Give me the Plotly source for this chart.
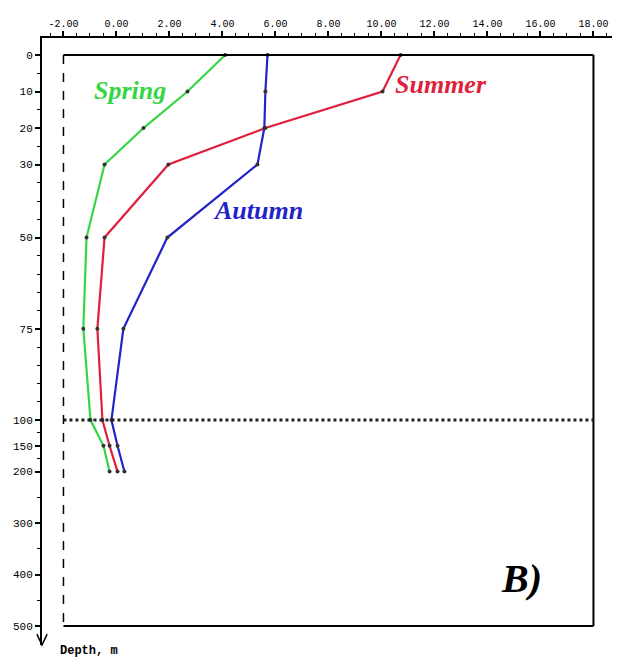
import plotly.graph_objects as go

# ---- data ----
depths = [0, 10, 20, 30, 50, 75, 100, 150, 200]
spring = [4.10, 2.68, 1.02, -0.45, -1.13, -1.25, -0.98, -0.49, -0.26]
summer = [10.72, 10.04, 5.62, 1.96, -0.45, -0.72, -0.53, -0.26, 0.04]
autumn = [5.70, 5.62, 5.58, 5.32, 1.92, 0.26, -0.19, 0.04, 0.30]

x_ticks = [-2, 0, 2, 4, 6, 8, 10, 12, 14, 16, 18]
depth_ticks = [0, 10, 20, 30, 50, 75, 100, 150, 200, 300, 400, 500]

# broken depth axis: linear 0-100, compressed below 100
SCALE_DEEP = 0.141


def dax(d):
    return d if d <= 100 else 100 + (d - 100) * SCALE_DEEP


fig = go.Figure()

series = [("Spring", spring, "#35d645"), ("Summer", summer, "#e01f3d"),
          ("Autumn", autumn, "#2323c8")]
for name, vals, col in series:
    fig.add_trace(go.Scatter(
        x=vals, y=[dax(d) for d in depths], mode="lines+markers", name=name,
        line=dict(color=col, width=2.2),
        marker=dict(color="#333333", size=4),
        showlegend=False))

mono = "Liberation Mono"
ser = "Liberation Serif"

# box around data area
xl, xr = -2, 18
yt, yb = 0, dax(500)
box = dict(type="line", xref="x", yref="y", line=dict(color="black", width=2))
fig.add_shape(**box, x0=xl, x1=xr, y0=yt, y1=yt)
fig.add_shape(**box, x0=xr, x1=xr, y0=yt, y1=yb)
fig.add_shape(**box, x0=xl, x1=xr, y0=yb, y1=yb)
fig.add_shape(type="line", xref="x", yref="y", x0=xl, x1=xl, y0=yt, y1=yb,
              line=dict(color="black", width=1.5, dash="dash"))
# dotted line at 100 m
fig.add_shape(type="line", xref="x", yref="y", x0=xl, x1=xr, y0=dax(100), y1=dax(100),
              line=dict(color="#222222", width=3, dash="dot"))

# arrow at bottom of depth axis
fig.add_shape(type="path", xref="paper", yref="paper",
              path="M -0.009,0.018 L 0,0 L 0.009,0.018",
              line=dict(color="black", width=1.5))

ann = [
    ("Spring", 0.51, dax(9.6), "#35d645", 26),
    ("Summer", 12.25, dax(8.2), "#e01f3d", 26),
    ("Autumn", 5.34, dax(42.5), "#2323c8", 26),
    ("B)", 15.3, 143.3, "black", 40),
]
for t, x, y, c, s in ann:
    fig.add_annotation(x=x, y=y, xref="x", yref="y", text="<b><i>" + t + "</i></b>",
                       showarrow=False, font=dict(family=ser, size=s, color=c),
                       xanchor="center", yanchor="middle")

fig.add_annotation(x=0.028, y=0, xref="paper", yref="paper", text="<b>Depth, m</b>",
                   showarrow=False, xanchor="left", yanchor="middle", yshift=-6,
                   font=dict(family=mono, size=12, color="black"))

fig.update_layout(
    width=619, height=660,
    margin=dict(l=42, r=7, t=38, b=15),
    paper_bgcolor="white", plot_bgcolor="white",
    xaxis=dict(
        side="top", range=[-2.81, 18.70], showgrid=False, zeroline=False,
        automargin=False,
        tickvals=x_ticks, ticktext=["%.2f" % v for v in x_ticks],
        showline=True, linecolor="black", linewidth=2,
        ticks="outside", ticklen=5, tickcolor="black", tickwidth=1.5,
        tickfont=dict(family=mono, size=10, color="black"),
        minor=dict(dtick=0.5, tick0=0, ticks="outside", ticklen=3,
                   tickcolor="black", tickwidth=1, showgrid=False),
    ),
    yaxis=dict(
        range=[161.6, -4.66], showgrid=False, zeroline=False,
        automargin=False,
        tickvals=[dax(d) for d in depth_ticks], ticktext=[str(d) for d in depth_ticks],
        showline=True, linecolor="black", linewidth=2,
        ticks="outside", ticklen=5, tickcolor="black", tickwidth=1.5,
        tickfont=dict(family=mono, size=11, color="black"),
        minor=dict(tickvals=[dax(d) for d in list(range(5, 100, 5)) + [125, 175, 250, 350, 450]],
                   ticks="outside", ticklen=3, tickcolor="black", tickwidth=1,
                   showgrid=False),
    ),
)

fig.write_html("out.html", config={"displayModeBar": False},
               post_script="document.body.style.margin='0';document.body.style.overflow='hidden';")
